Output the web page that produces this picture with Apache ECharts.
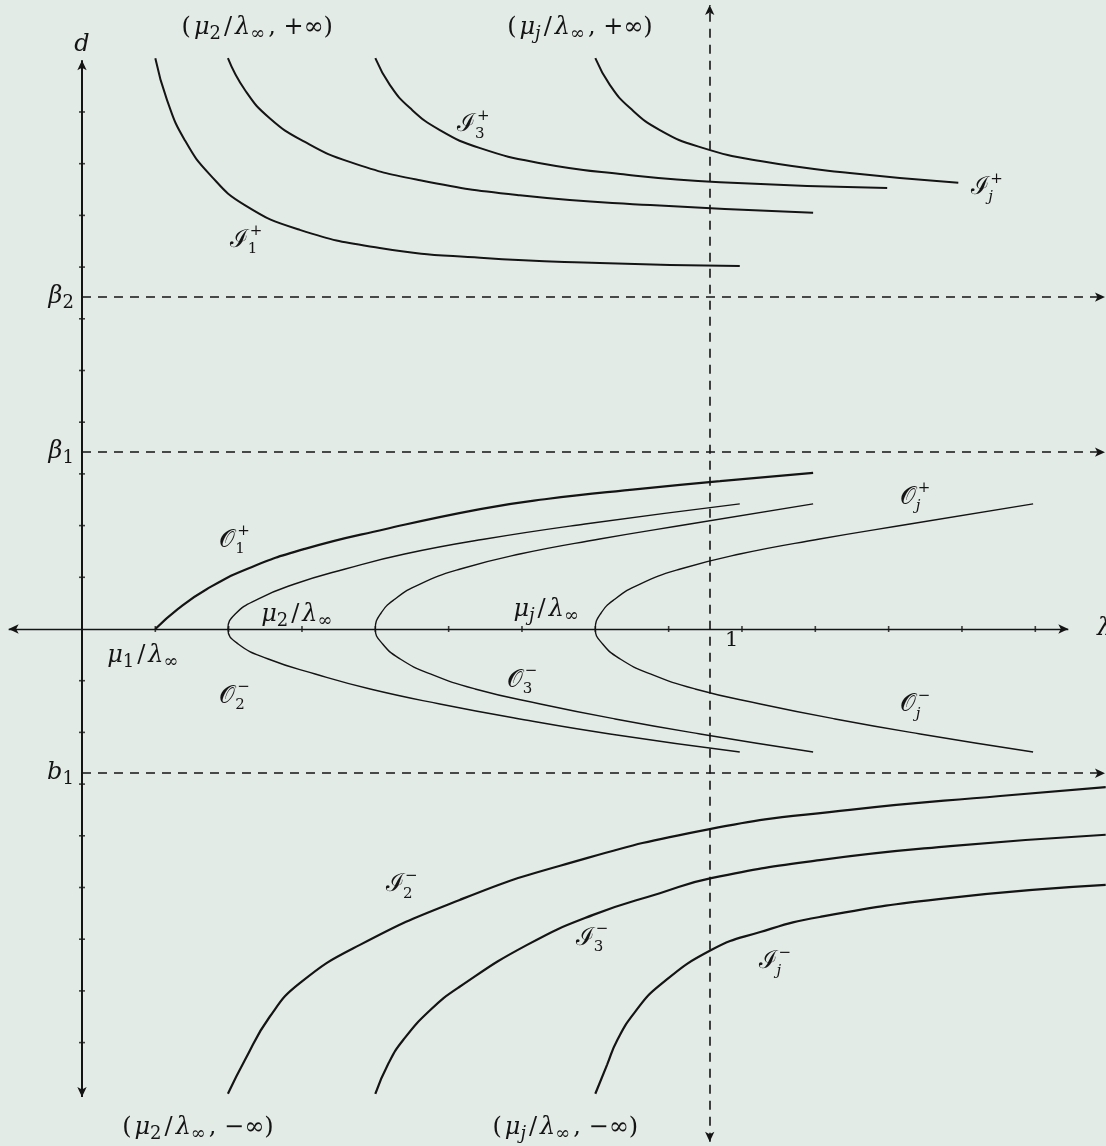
<!DOCTYPE html>
<html>
<head>
<meta charset="utf-8">
<title>Bifurcation diagram</title>
<script src="https://cdn.jsdelivr.net/npm/echarts@6.0.0/dist/echarts.min.js"></script>
<style>
  html, body { margin: 0; padding: 0; background: #e3ebe7; }
  #chart { width: 1106px; height: 1146px; }
</style>
</head>
<body>
<div id="chart"></div>
<script>
// units: one tick step on each axis (x: lambda ticks, y: d ticks)
var xTicks = [1, 2, 3, 4, 5, 6, 7, 8, 9, 10, 11, 12, 13];
var yTicks = [-8, -7, -6, -5, -4, -3, -2, -1, 1, 2, 3, 4, 5, 6, 7, 8, 9, 10];
var lambdaOne = 8.56;      // dashed vertical line
var beta2 = 6.42, beta1 = 3.42, b1 = -2.79;

// I^+ branches (coming down from +infinity)
var curveI1p = [[1.0, 11.04], [1.16, 10.23], [1.40, 9.46], [1.75, 8.78], [2.22, 8.20], [2.97, 7.72], [4.06, 7.37], [5.43, 7.18], [7.06, 7.08], [8.97, 7.02]];
var curveI2p = [[1.99, 11.04], [2.22, 10.43], [2.56, 9.88], [3.04, 9.42], [3.66, 9.03], [4.61, 8.68], [5.97, 8.39], [7.75, 8.20], [9.97, 8.05]];
var curveI3p = [[4.0, 11.04], [4.20, 10.52], [4.47, 10.08], [4.88, 9.65], [5.43, 9.30], [6.25, 9.01], [7.34, 8.80], [8.70, 8.64], [10.98, 8.53]];
var curveIjp = [[7.0, 11.04], [7.20, 10.52], [7.47, 10.08], [7.88, 9.65], [8.43, 9.32], [9.25, 9.05], [10.47, 8.82], [11.95, 8.63]];

// O branches
var curveO1p = [[1.0, 0], [1.31, 0.39], [1.70, 0.77], [2.25, 1.16], [3.04, 1.55], [4.13, 1.93], [5.43, 2.32], [6.31, 2.51], [7.61, 2.71], [8.70, 2.86], [9.97, 3.02]];
var curveO2 = [[8.97, -2.38], [7.20, -2.03], [5.97, -1.74], [4.88, -1.45], [3.93, -1.16], [3.18, -0.87], [2.54, -0.58], [2.13, -0.29], [1.99, 0],
  [2.09, 0.29], [2.40, 0.58], [2.90, 0.87], [3.59, 1.16], [4.40, 1.45], [5.50, 1.74], [6.86, 2.03], [8.97, 2.42]];
var curveO3 = [[9.97, -2.38], [8.43, -2.03], [7.27, -1.74], [6.25, -1.45], [5.36, -1.16], [4.75, -0.87], [4.34, -0.58], [4.10, -0.29], [4.0, 0],
  [4.07, 0.29], [4.27, 0.58], [4.61, 0.87], [5.16, 1.16], [5.97, 1.45], [7.06, 1.74], [8.29, 2.03], [9.97, 2.42]];
var curveOj = [[12.97, -2.38], [11.43, -2.03], [10.27, -1.74], [9.25, -1.45], [8.36, -1.16], [7.75, -0.87], [7.34, -0.58], [7.10, -0.29], [7.0, 0],
  [7.07, 0.29], [7.27, 0.58], [7.61, 0.87], [8.16, 1.16], [8.97, 1.45], [10.06, 1.74], [11.29, 2.03], [12.97, 2.42]];

// I^- branches (coming up from -infinity)
var curveI2m = [[1.99, -8.99], [2.22, -8.34], [2.56, -7.50], [2.97, -6.85], [3.79, -6.11], [5.15, -5.24], [6.52, -4.58], [8.56, -3.87], [10.47, -3.50], [12.52, -3.23], [13.96, -3.06]];
var curveI3m = [[4.0, -8.99], [4.18, -8.40], [4.38, -7.95], [4.75, -7.37], [5.15, -6.92], [6.07, -6.11], [6.97, -5.53], [7.88, -5.11], [8.58, -4.82], [10.06, -4.47], [11.84, -4.20], [13.96, -3.98]];
var curveIjm = [[7.0, -8.99], [7.16, -8.43], [7.30, -7.95], [7.54, -7.41], [7.88, -6.89], [8.58, -6.21], [9.25, -5.86], [10.06, -5.57], [11.84, -5.20], [13.96, -4.95]];

// labels of the branches: [x, y, letter, sub, sup]
var setLabels = [
  [2.15, 7.52, 'I', '1', '+'],
  [5.25, 9.75, 'I', '3', '+'],
  [12.25, 8.53, 'I', 'j', '+'],
  [1.98, 1.72, 'O', '1', '+'],
  [1.98, -1.30, 'O', '2', '-'],
  [5.90, -0.99, 'O', '3', '-'],
  [11.26, 2.55, 'O', 'j', '+'],
  [11.26, -1.47, 'O', 'j', '-'],
  [4.27, -4.95, 'I', '2', '-'],
  [6.87, -5.98, 'I', '3', '-'],
  [9.36, -6.44, 'I', 'j', '-']
];
// mu_i / lambda_inf on the lambda axis: [x, y, index]
var muLabels = [[0.83, -0.52, '1'], [2.93, 0.27, '2'], [6.33, 0.37, 'j']];
// limit points: [x, y, index, sign]
var limitLabels = [[2.39, 11.62, '2', '+'], [6.79, 11.62, 'j', '+'], [1.58, -9.65, '2', '-'], [6.59, -9.65, 'j', '-']];
// axis names and levels: [x, y, text, sub, align]
var axisLabels = [[0, 11.3, 'd', '', 'center'], [13.84, 0, 'λ', '', 'left'], [-0.11, beta2, 'β', '2', 'right'],
  [-0.11, beta1, 'β', '1', 'right'], [-0.11, b1, 'b', '1', 'right']];

var ink = '#141414';
var serif = 'DejaVu Serif, Liberation Serif, serif';

var chart = echarts.init(document.getElementById('chart'));

function curve(data, width) {
  return {
    type: 'line', data: data, smooth: 0.5, symbol: 'none', silent: true,
    lineStyle: { color: ink, width: width }
  };
}

var richMath = {
  i: { fontFamily: serif, fontSize: 24, fontStyle: 'italic', fill: ink, lineHeight: 30 },
  r: { fontFamily: serif, fontSize: 24, fill: ink, lineHeight: 30, padding: [0, 3] },
  p: { fontFamily: serif, fontSize: 24, fill: ink, lineHeight: 30, padding: [0, 3] },
  s: { fontFamily: serif, fontSize: 18, fill: ink, lineHeight: 20, verticalAlign: 'bottom' },
  si: { fontFamily: serif, fontSize: 18, fontStyle: 'italic', fill: ink, lineHeight: 20, verticalAlign: 'bottom' }
};

function muRich(idx) {
  return '{i|μ}{' + (idx === 'j' ? 'si' : 's') + '|' + idx + '}{r|/}{i|λ}{s|∞}';
}

function textEl(x, y, text, align, extra) {
  var st = { text: text, fill: ink, fontFamily: serif, fontSize: 24, align: align || 'center', verticalAlign: 'middle', rich: richMath };
  for (var k in extra) st[k] = extra[k];
  return { type: 'text', x: x, y: y, style: st };
}

var option = {
  backgroundColor: '#e3ebe7',
  animation: false,
  grid: { left: 0, right: 0, top: 0, bottom: 0 },
  xAxis: { type: 'value', min: -1.118, max: 13.964, show: false },
  yAxis: { type: 'value', min: -10.0, max: 12.166, show: false },
  series: [
    // ticks on the lambda axis, axes as markLines
    {
      type: 'scatter', silent: true, symbol: 'rect', symbolSize: [1.6, 6],
      itemStyle: { color: ink },
      data: xTicks.map(function (v) { return [v, 0]; }),
      markLine: {
        silent: true, symbol: ['arrow', 'arrow'], symbolSize: [7, 10],
        label: { show: false },
        lineStyle: { color: ink, type: 'solid' },
        data: [
          [{ coord: [-1, 0], lineStyle: { width: 1.4 } }, { coord: [13.45, 0] }],
          [{ coord: [0, -9.05], lineStyle: { width: 2 } }, { coord: [0, 11.0] }]
        ]
      }
    },
    // ticks on the d axis, dashed reference lines
    {
      type: 'scatter', silent: true, symbol: 'rect', symbolSize: [6, 1.6],
      itemStyle: { color: ink },
      data: yTicks.map(function (v) { return [0, v]; }),
      markLine: {
        silent: true, symbol: ['none', 'arrow'], symbolSize: [7, 10],
        label: { show: false },
        lineStyle: { color: ink, type: [9, 7], width: 1.6 },
        data: [
          [{ coord: [0, beta2] }, { coord: [13.95, beta2] }],
          [{ coord: [0, beta1] }, { coord: [13.95, beta1] }],
          [{ coord: [0, b1] }, { coord: [13.95, b1] }],
          [{ coord: [lambdaOne, -9.92], symbol: 'arrow' }, { coord: [lambdaOne, 12.07] }]
        ]
      }
    },
    curve(curveI1p, 2), curve(curveI2p, 2), curve(curveI3p, 2), curve(curveIjp, 2),
    curve(curveO1p, 2.2), curve(curveO2, 1.4), curve(curveO3, 1.4), curve(curveOj, 1.4),
    curve(curveI2m, 2.2), curve(curveI3m, 2.2), curve(curveIjm, 2.2),
    // branch names
    {
      type: 'custom', silent: true,
      data: setLabels.map(function (l) { return [l[0], l[1]]; }),
      renderItem: function (params, api) {
        var l = setLabels[params.dataIndex];
        var p = api.coord([api.value(0), api.value(1)]);
        var glyph = l[2] === 'I' ? 'ℐ' : '𝒪';
        return {
          type: 'group', children: [
            textEl(p[0], p[1], glyph, 'center', { fontSize: 25 }),
            textEl(p[0] + 10, p[1] - 9, l[4] === '+' ? '+' : '−', 'left', { fontSize: 15 }),
            textEl(p[0] + 8, p[1] + 9, l[3], 'left', { fontSize: 15, fontStyle: l[3] === 'j' ? 'italic' : 'normal' })
          ]
        };
      }
    },
    // mu_i / lambda_inf
    {
      type: 'custom', silent: true,
      data: muLabels.map(function (l) { return [l[0], l[1]]; }),
      renderItem: function (params, api) {
        var l = muLabels[params.dataIndex];
        var p = api.coord([api.value(0), api.value(1)]);
        return textEl(p[0], p[1], muRich(l[2]), 'center');
      }
    },
    // (mu_i / lambda_inf, +-inf)
    {
      type: 'custom', silent: true,
      data: limitLabels.map(function (l) { return [l[0], l[1]]; }),
      renderItem: function (params, api) {
        var l = limitLabels[params.dataIndex];
        var p = api.coord([api.value(0), api.value(1)]);
        var s = '{p|(}' + muRich(l[2]) + '{p|, ' + (l[3] === '+' ? '+' : '−') + '∞)}';
        return textEl(p[0], p[1], s, 'center');
      }
    },
    // axis names, levels and the tick label 1
    {
      type: 'custom', silent: true,
      data: axisLabels.map(function (l) { return [l[0], l[1]]; }).concat([[8.86, -0.23]]),
      renderItem: function (params, api) {
        var p = api.coord([api.value(0), api.value(1)]);
        if (params.dataIndex >= axisLabels.length) {
          return textEl(p[0], p[1], '1', 'center', { fontSize: 21 });
        }
        var l = axisLabels[params.dataIndex];
        var s = '{i|' + l[2] + '}' + (l[3] ? '{s|' + l[3] + '}' : '');
        return textEl(p[0], p[1], s, l[4]);
      }
    }
  ]
};

chart.setOption(option);
</script>
</body>
</html>
